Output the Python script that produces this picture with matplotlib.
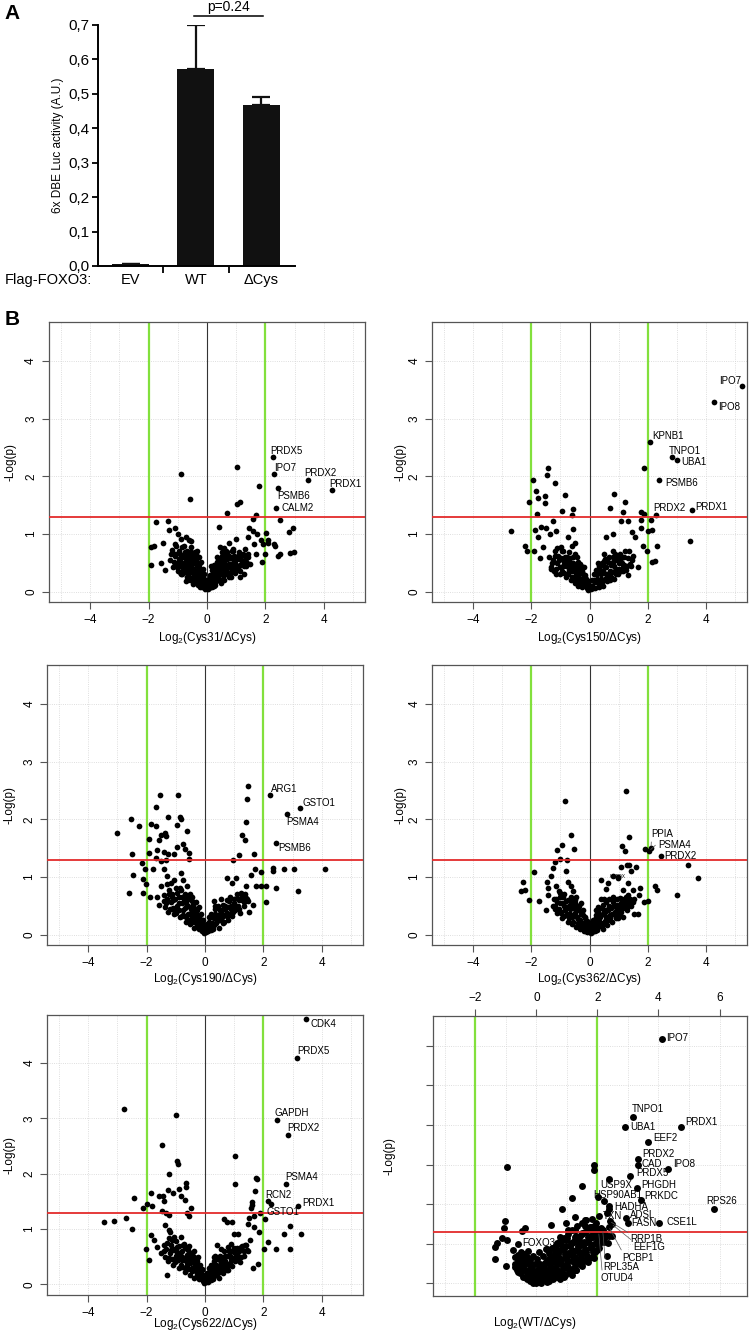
import numpy as np
import matplotlib.pyplot as plt

plt.rcParams['font.family'] = ['Liberation Sans', 'DejaVu Sans']

# ---------------- panel A : luciferase assay
groups = ['EV', 'WT', '\u0394Cys']
luc = [0.005, 0.573, 0.469]
luc_err = [0.002, 0.127, 0.022]
p_text = 'p=0.24'

# ---------------- panel B : volcano plots (log2 ratio, -log p)
c31_pts = [(-0.90, 2.04), (-0.57, 1.61), (1.03, 2.16), (1.78, 1.84), (1.02, 1.52), (1.14, 1.56), (0.69, 1.37),
           (1.67, 1.33), (1.58, 1.26), (2.49, 1.25), (-1.76, 1.21), (-1.34, 1.22), (-1.30, 1.07), (-1.10, 1.10),
           (-1.91, 0.77), (-1.83, 0.80), (-1.91, 0.47), (-1.57, 0.50), (-1.42, 0.38), (-1.49, 0.85), (-0.99, 1.0),
           (-0.88, 0.91), (-0.71, 0.94), (-1.22, 0.65), (-1.11, 0.83), (-0.85, 0.77), (-0.54, 0.88), (-0.37, 0.65),
           (-0.59, 0.59), (-1.05, 0.48), (-0.88, 0.31), (-0.71, 0.19), (-0.48, 0.13), (-0.25, 0.08), (-0.31, 0.25),
           (0.41, 1.13), (1.44, 1.10), (1.58, 1.06), (1.41, 0.94), (1.73, 1.00), (1.86, 0.89), (1.92, 0.83),
           (2.03, 1.02), (2.10, 0.89), (2.10, 0.84), (2.30, 0.83), (2.33, 0.79), (2.95, 1.10), (2.81, 1.03),
           (2.43, 0.62), (2.51, 0.65), (2.83, 0.67), (2.99, 0.69), (2.0, 0.65), (1.90, 0.52), (1.69, 0.65),
           (1.49, 0.48), (1.12, 0.36), (1.12, 0.25), (1.27, 0.31), (0.89, 0.59), (0.75, 0.85), (1.01, 0.91),
           (0.66, 0.71), (0.49, 0.59), (0.32, 0.42), (0.21, 0.25), (0.09, 0.10), (0.43, 0.77), (0.89, 0.74),
           (1.29, 0.74), (1.35, 0.59), (1.60, 0.83),
           (-1.25, 0.55), (-1.15, 0.42), (-1.1, 0.62), (-1.0, 0.5), (-1.0, 0.35), (-0.95, 0.7), (-0.9, 0.58),
           (-0.88, 0.45), (-0.85, 0.3), (-0.8, 0.8), (-0.78, 0.62), (-0.75, 0.5), (-0.72, 0.38), (-0.7, 0.25),
           (-0.68, 0.7), (-0.65, 0.58), (-0.62, 0.45), (-0.6, 0.32), (-0.58, 0.2), (-0.55, 0.78), (-0.52, 0.65),
           (-0.5, 0.52), (-0.48, 0.4), (-0.45, 0.28), (-0.42, 0.16), (-0.4, 0.6), (-0.38, 0.48), (-0.35, 0.35),
           (-0.32, 0.22), (-0.3, 0.12), (-0.28, 0.5), (-0.25, 0.4), (-0.22, 0.28), (-0.2, 0.18), (-0.18, 0.08),
           (-0.15, 0.32), (-0.12, 0.2), (-0.1, 0.1), (-0.07, 0.04), (-0.05, 0.15), (-1.2, 0.72), (-1.05, 0.8),
           (-0.6, 0.9), (-0.35, 0.7), (0.05, 0.05), (0.1, 0.12), (0.12, 0.25), (0.18, 0.08), (0.2, 0.35),
           (0.22, 0.18), (0.28, 0.12), (0.3, 0.42), (0.32, 0.28), (0.38, 0.2), (0.4, 0.5), (0.42, 0.35),
           (0.48, 0.15), (0.5, 0.62), (0.52, 0.42), (0.55, 0.28), (0.6, 0.2), (0.62, 0.55), (0.65, 0.38),
           (0.7, 0.68), (0.72, 0.3), (0.75, 0.48), (0.8, 0.58), (0.82, 0.25), (0.85, 0.4), (0.9, 0.7),
           (0.92, 0.52), (0.95, 0.32), (1.0, 0.45), (1.05, 0.62), (1.1, 0.38), (1.15, 0.55), (1.2, 0.48),
           (1.25, 0.65), (1.3, 0.52), (1.35, 0.45), (1.4, 0.6), (0.6, 0.75), (0.35, 0.6), (0.15, 0.45),
           (-1.12, 0.52), (-1.08, 0.66), (-1.02, 0.42), (-0.97, 0.56), (-0.93, 0.34), (-0.92, 0.66), (-0.87, 0.5),
           (-0.83, 0.62), (-0.82, 0.38), (-0.77, 0.44), (-0.76, 0.68), (-0.73, 0.56), (-0.7, 0.32), (-0.67, 0.48),
           (-0.66, 0.64), (-0.63, 0.26), (-0.6, 0.4), (-0.59, 0.55), (-0.56, 0.68), (-0.54, 0.22), (-0.53, 0.46),
           (-0.5, 0.34), (-0.49, 0.58), (-0.46, 0.2), (-0.44, 0.5), (-0.42, 0.36), (-0.41, 0.68), (-0.38, 0.26),
           (-0.36, 0.56), (-0.34, 0.44), (-0.31, 0.18), (-0.3, 0.32), (-0.28, 0.6), (-0.26, 0.46), (-0.24, 0.14),
           (-0.23, 0.24), (-0.2, 0.38), (-0.19, 0.52), (-0.16, 0.1), (-0.14, 0.26), (-0.13, 0.4), (-0.1, 0.16),
           (-0.09, 0.3), (-0.06, 0.06), (-0.04, 0.2), (-0.02, 0.1), (0.02, 0.08), (0.04, 0.18), (0.08, 0.06),
           (0.09, 0.28), (0.13, 0.14), (0.16, 0.38), (0.19, 0.22), (0.23, 0.1), (0.24, 0.46), (0.27, 0.3),
           (0.31, 0.18), (0.33, 0.52), (0.36, 0.36), (0.39, 0.26), (0.43, 0.56), (0.44, 0.42), (0.47, 0.3),
           (0.5, 0.2), (0.51, 0.68), (0.54, 0.5), (0.57, 0.38), (0.6, 0.28), (0.63, 0.64), (0.64, 0.46),
           (0.68, 0.34), (0.7, 0.56), (0.73, 0.42), (0.74, 0.26), (0.77, 0.62), (0.8, 0.48), (0.83, 0.34),
           (0.85, 0.7), (0.88, 0.56), (0.9, 0.42), (0.93, 0.62), (0.97, 0.5), (0.99, 0.38), (1.03, 0.56),
           (1.06, 0.44), (1.09, 0.68), (1.13, 0.46), (1.17, 0.62), (1.22, 0.54), (1.27, 0.44), (1.32, 0.58),
           (1.38, 0.5), (1.42, 0.66)]
c31_genes = ['PRDX5', 'IPO7', 'PRDX2', 'PRDX1', 'PSMB6', 'CALM2']
c31_gx = [2.26, 2.29, 3.47, 4.29, 2.43, 2.38]
c31_gy = [2.34, 2.04, 1.93, 1.77, 1.80, 1.46]

c150_pts = [(1.86, 2.15), (0.83, 1.69), (1.22, 1.56), (0.71, 1.45), (1.15, 1.39), (1.77, 1.39), (1.86, 1.34),
            (1.77, 1.24), (2.11, 1.24), (3.45, 0.88), (-1.94, 1.94), (-2.09, 1.56), (-1.83, 1.74), (-1.77, 1.62),
            (-1.41, 2.14), (-1.46, 2.03), (-1.20, 1.88), (-1.54, 1.66), (-1.52, 1.53), (-0.83, 1.67), (-0.57, 1.44),
            (-0.59, 1.33), (-0.95, 1.40), (-1.82, 1.34), (-1.25, 1.23), (-2.69, 1.06), (-2.21, 0.80), (-2.14, 0.71),
            (-1.92, 0.71), (-1.86, 1.07), (-1.66, 1.13), (-1.49, 1.11), (-1.77, 0.94), (-1.60, 0.77), (-1.71, 0.59),
            (-1.31, 0.39), (-1.14, 0.31), (-0.97, 0.77), (-0.74, 0.94), (-0.55, 1.09), (-0.51, 0.85), (-0.80, 0.57),
            (-0.63, 0.42), (-0.40, 0.25), (-1.14, 1.06), (-1.34, 1.0), (0.55, 0.94), (0.80, 1.0), (1.09, 1.23),
            (1.31, 1.23), (1.45, 1.03), (1.77, 1.11), (1.58, 0.94), (1.83, 0.80), (1.98, 0.71), (2.0, 1.06),
            (2.16, 1.07), (2.26, 0.54), (2.32, 0.80), (2.14, 0.51), (1.66, 0.42), (1.43, 0.45), (1.31, 0.29),
            (1.09, 0.59), (0.80, 0.71), (0.51, 0.54), (0.29, 0.36), (0.17, 0.19), (0.63, 0.25), (0.86, 0.36),
            (1.14, 0.42),
            (-1.3, 0.5), (-1.2, 0.62), (-1.15, 0.4), (-1.05, 0.55), (-1.0, 0.3), (-0.95, 0.7), (-0.9, 0.45),
            (-0.85, 0.6), (-0.8, 0.25), (-0.78, 0.52), (-0.72, 0.38), (-0.7, 0.68), (-0.65, 0.2), (-0.62, 0.5),
            (-0.58, 0.35), (-0.55, 0.6), (-0.5, 0.15), (-0.48, 0.45), (-0.45, 0.28), (-0.4, 0.52), (-0.38, 0.1),
            (-0.35, 0.38), (-0.3, 0.22), (-0.28, 0.45), (-0.25, 0.08), (-0.22, 0.3), (-0.18, 0.15), (-0.15, 0.25),
            (-0.1, 0.06), (-0.08, 0.14), (-0.04, 0.03), (-1.1, 0.75), (-0.6, 0.8), (0.05, 0.04), (0.1, 0.1),
            (0.15, 0.2), (0.2, 0.06), (0.25, 0.3), (0.3, 0.15), (0.35, 0.38), (0.4, 0.22), (0.45, 0.1),
            (0.5, 0.45), (0.55, 0.3), (0.6, 0.18), (0.65, 0.52), (0.7, 0.36), (0.75, 0.25), (0.8, 0.6),
            (0.85, 0.45), (0.9, 0.3), (0.95, 0.55), (1.0, 0.4), (1.05, 0.65), (1.1, 0.5), (1.15, 0.35),
            (1.2, 0.6), (1.3, 0.45), (1.35, 0.7), (1.45, 0.55), (0.5, 0.65), (0.3, 0.5),
            (-1.38, 0.6), (-1.33, 0.42), (-1.27, 0.55), (-1.22, 0.35), (-1.18, 0.7), (-1.13, 0.5), (-1.08, 0.62),
            (-1.03, 0.42), (-0.98, 0.58), (-0.96, 0.36), (-0.92, 0.7), (-0.88, 0.52), (-0.86, 0.32), (-0.82, 0.44),
            (-0.76, 0.6), (-0.74, 0.3), (-0.69, 0.46), (-0.67, 0.58), (-0.63, 0.36), (-0.6, 0.25), (-0.57, 0.5),
            (-0.53, 0.42), (-0.51, 0.66), (-0.47, 0.22), (-0.44, 0.36), (-0.42, 0.6), (-0.37, 0.3), (-0.34, 0.48),
            (-0.32, 0.16), (-0.27, 0.36), (-0.24, 0.2), (-0.2, 0.42), (-0.17, 0.28), (-0.13, 0.12), (-0.11, 0.22),
            (-0.06, 0.1), (-0.03, 0.18), (0.03, 0.1), (0.07, 0.2), (0.12, 0.06), (0.14, 0.3), (0.18, 0.16),
            (0.22, 0.38), (0.27, 0.22), (0.32, 0.44), (0.33, 0.08), (0.38, 0.3), (0.42, 0.5), (0.43, 0.16),
            (0.48, 0.36), (0.53, 0.56), (0.54, 0.22), (0.58, 0.42), (0.63, 0.3), (0.67, 0.6), (0.69, 0.2),
            (0.73, 0.46), (0.78, 0.34), (0.82, 0.52), (0.84, 0.22), (0.88, 0.66), (0.92, 0.4), (0.97, 0.3),
            (0.99, 0.62), (1.03, 0.5), (1.08, 0.36), (1.12, 0.6), (1.18, 0.46), (1.23, 0.7), (1.26, 0.38),
            (1.32, 0.58), (1.4, 0.48), (1.48, 0.62)]
c150_genes = ['IPO7', 'IPO8', 'KPNB1', 'TNPO1', 'UBA1', 'PSMB6', 'PRDX2', 'PRDX1']
c150_gx = [5.23, 4.26, 2.07, 2.83, 3.0, 2.38, 2.30, 3.52]
c150_gy = [3.57, 3.29, 2.59, 2.33, 2.28, 1.94, 1.33, 1.42]

c190_pts = [(1.47, 2.58), (1.43, 2.36), (1.42, 1.95), (1.28, 1.73), (1.37, 1.64), (1.68, 1.40), (1.17, 1.38),
            (0.97, 1.29), (4.11, 1.13), (3.05, 1.13), (2.70, 1.13), (2.33, 1.15), (2.33, 1.10), (3.20, 0.75),
            (2.42, 0.80), (2.08, 0.84), (1.91, 0.84), (1.74, 0.84), (1.91, 1.08), (1.70, 1.14), (1.57, 1.04),
            (2.08, 0.56), (1.05, 0.98), (0.77, 0.98), (0.94, 0.90), (1.22, 0.72), (1.45, 0.61), (1.66, 0.52),
            (1.51, 0.39), (0.99, 0.49), (0.77, 0.38), (0.54, 0.43), (0.31, 0.58), (0.42, 0.26), (0.19, 0.14),
            (1.39, 0.84), (-3.02, 1.77), (-2.55, 2.0), (-2.27, 1.89), (-2.49, 1.39), (-2.47, 1.03), (-2.61, 0.72),
            (-2.13, 0.72), (-2.11, 0.97), (-2.01, 0.87), (-1.91, 1.66), (-1.93, 1.42), (-2.15, 1.25), (-2.07, 1.14),
            (-1.86, 1.92), (-1.69, 1.89), (-1.68, 2.21), (-1.54, 2.43), (-0.94, 2.43), (-1.27, 2.04), (-0.86, 2.04),
            (-0.83, 2.0), (-0.96, 1.91), (-0.61, 1.80), (-1.52, 1.73), (-1.38, 1.76), (-1.33, 1.71), (-1.58, 1.65),
            (-1.63, 1.47), (-1.41, 1.43), (-1.27, 1.40), (-1.07, 1.40), (-0.95, 1.52), (-0.74, 1.58), (-0.69, 1.49),
            (-0.54, 1.42), (-0.55, 1.32), (-1.67, 1.33), (-1.52, 1.27), (-1.35, 1.29), (-1.41, 1.13), (-1.79, 1.13),
            (-1.29, 1.01), (-1.06, 0.95), (-0.83, 1.07), (-1.52, 0.84), (-1.31, 0.88), (-1.63, 0.66), (-1.57, 0.51),
            (-1.90, 0.66), (-1.41, 0.58), (-1.12, 0.66), (-0.83, 0.78), (-0.61, 0.84), (-0.43, 0.66), (-0.66, 0.55),
            (-1.06, 0.43), (-0.78, 0.32), (-0.43, 0.38), (-0.26, 0.23), (-0.15, 0.12), (-0.09, 0.06),
            (-1.35, 0.55), (-1.25, 0.7), (-1.2, 0.45), (-1.1, 0.6), (-1.05, 0.35), (-1.0, 0.8), (-0.95, 0.5),
            (-0.9, 0.65), (-0.85, 0.3), (-0.8, 0.55), (-0.75, 0.42), (-0.7, 0.7), (-0.65, 0.22), (-0.62, 0.5),
            (-0.58, 0.36), (-0.55, 0.62), (-0.5, 0.18), (-0.48, 0.45), (-0.45, 0.3), (-0.4, 0.52), (-0.36, 0.12),
            (-0.33, 0.38), (-0.3, 0.24), (-0.26, 0.42), (-0.22, 0.1), (-0.2, 0.3), (-0.16, 0.18), (-0.12, 0.26),
            (-0.08, 0.07), (-0.05, 0.14), (-0.02, 0.02), (-1.15, 0.9), (-0.75, 0.95), (0.05, 0.05), (0.1, 0.12),
            (0.14, 0.22), (0.2, 0.08), (0.25, 0.3), (0.3, 0.16), (0.35, 0.36), (0.42, 0.24), (0.48, 0.12),
            (0.52, 0.42), (0.58, 0.3), (0.62, 0.2), (0.68, 0.5), (0.72, 0.36), (0.78, 0.26), (0.82, 0.58),
            (0.88, 0.44), (0.92, 0.32), (0.98, 0.55), (1.02, 0.42), (1.08, 0.64), (1.12, 0.5), (1.2, 0.38),
            (1.25, 0.6), (1.32, 0.5), (1.38, 0.7), (1.48, 0.58), (0.55, 0.62), (0.35, 0.5),
            (-1.4, 0.68), (-1.36, 0.48), (-1.3, 0.62), (-1.27, 0.4), (-1.22, 0.78), (-1.18, 0.56), (-1.12, 0.7),
            (-1.08, 0.46), (-1.03, 0.62), (-0.98, 0.38), (-0.96, 0.72), (-0.9, 0.54), (-0.88, 0.42), (-0.84, 0.8),
            (-0.8, 0.66), (-0.77, 0.34), (-0.72, 0.58), (-0.68, 0.46), (-0.66, 0.3), (-0.6, 0.64), (-0.57, 0.5),
            (-0.55, 0.26), (-0.52, 0.7), (-0.47, 0.38), (-0.44, 0.58), (-0.41, 0.22), (-0.38, 0.46), (-0.34, 0.28),
            (-0.31, 0.56), (-0.28, 0.16), (-0.25, 0.34), (-0.22, 0.48), (-0.18, 0.22), (-0.14, 0.36), (-0.13, 0.1),
            (-0.1, 0.18), (-0.06, 0.26), (-0.04, 0.06), (0.03, 0.1), (0.07, 0.18), (0.11, 0.06), (0.12, 0.3),
            (0.17, 0.14), (0.22, 0.36), (0.23, 0.2), (0.28, 0.1), (0.32, 0.28), (0.33, 0.44), (0.38, 0.2),
            (0.44, 0.34), (0.46, 0.5), (0.5, 0.26), (0.55, 0.4), (0.6, 0.52), (0.63, 0.32), (0.66, 0.22),
            (0.7, 0.44), (0.74, 0.6), (0.76, 0.32), (0.8, 0.48), (0.85, 0.36), (0.86, 0.66), (0.9, 0.5),
            (0.95, 0.4), (1.0, 0.62), (1.05, 0.5), (1.1, 0.7), (1.15, 0.44), (1.18, 0.6), (1.28, 0.66),
            (1.35, 0.56), (1.42, 0.64)]
c190_genes = ['ARG1', 'GSTO1', 'PSMA4', 'PSMB6']
c190_gx = [2.23, 3.25, 2.80, 2.42]
c190_gy = [2.42, 2.19, 2.09, 1.59]

c362_pts = [(1.26, 2.50), (-0.83, 2.31), (-0.65, 1.72), (-0.94, 1.55), (-1.11, 1.46), (-0.54, 1.49), (1.35, 1.69),
            (1.11, 1.53), (1.22, 1.45), (1.91, 1.49), (3.37, 1.21), (3.74, 0.99), (3.0, 0.68), (2.26, 0.84),
            (2.31, 0.78), (2.0, 0.58), (1.86, 0.57), (-1.03, 1.31), (-0.77, 1.29), (-1.20, 1.26), (-1.91, 1.09),
            (-2.29, 0.92), (-2.34, 0.75), (-2.23, 0.78), (-2.09, 0.60), (-1.74, 0.58), (-1.46, 0.91), (-1.31, 1.01),
            (-1.41, 0.81), (-1.26, 1.16), (-1.43, 0.69), (-1.14, 0.84), (-1.03, 0.72), (-0.80, 1.10), (-0.74, 0.92),
            (-0.63, 0.84), (-0.51, 0.55), (-0.86, 0.49), (-1.20, 0.49), (-0.97, 0.38), (-0.63, 0.32), (-0.40, 0.20),
            (-0.23, 0.12), (-1.49, 0.43), (1.09, 1.17), (1.28, 1.21), (1.37, 1.21), (1.6, 1.17), (1.43, 1.10),
            (0.97, 0.98), (0.80, 1.01), (0.63, 0.90), (0.40, 0.95), (0.57, 0.79), (1.31, 0.90), (1.49, 0.78),
            (1.74, 0.80), (1.71, 0.69), (1.54, 0.61), (1.31, 0.69), (1.14, 0.78), (1.09, 0.55), (0.86, 0.49),
            (0.63, 0.43), (1.54, 0.35), (1.66, 0.35), (0.40, 0.61), (0.23, 0.43), (0.17, 0.26), (0.63, 0.26),
            (0.91, 0.38), (1.31, 0.49),
            (-1.25, 0.5), (-1.15, 0.62), (-1.1, 0.38), (-1.0, 0.55), (-0.95, 0.28), (-0.9, 0.66), (-0.85, 0.42),
            (-0.8, 0.58), (-0.75, 0.22), (-0.72, 0.5), (-0.68, 0.35), (-0.65, 0.65), (-0.6, 0.18), (-0.57, 0.46),
            (-0.53, 0.33), (-0.5, 0.6), (-0.46, 0.14), (-0.43, 0.42), (-0.4, 0.27), (-0.36, 0.5), (-0.33, 0.1),
            (-0.3, 0.36), (-0.27, 0.2), (-0.24, 0.42), (-0.2, 0.07), (-0.17, 0.28), (-0.14, 0.15), (-0.1, 0.24),
            (-0.07, 0.05), (-0.04, 0.12), (-1.05, 0.75), (-0.55, 0.76), (0.04, 0.03), (0.09, 0.11), (0.13, 0.2),
            (0.19, 0.06), (0.24, 0.28), (0.3, 0.14), (0.34, 0.35), (0.41, 0.2), (0.46, 0.1), (0.5, 0.42),
            (0.56, 0.3), (0.6, 0.17), (0.66, 0.5), (0.7, 0.34), (0.76, 0.22), (0.8, 0.56), (0.86, 0.4),
            (0.9, 0.28), (0.96, 0.52), (1.0, 0.36), (1.04, 0.64), (1.1, 0.46), (1.16, 0.3), (1.2, 0.58),
            (1.28, 0.42), (1.36, 0.62), (1.44, 0.5), (0.5, 0.62), (0.3, 0.48),
            (-1.22, 0.62), (-1.18, 0.44), (-1.12, 0.56), (-1.06, 0.45), (-1.02, 0.66), (-0.98, 0.4), (-0.93, 0.54),
            (-0.88, 0.32), (-0.86, 0.7), (-0.82, 0.48), (-0.78, 0.36), (-0.74, 0.6), (-0.7, 0.28), (-0.66, 0.44),
            (-0.62, 0.56), (-0.6, 0.3), (-0.55, 0.22), (-0.54, 0.52), (-0.5, 0.38), (-0.48, 0.66), (-0.44, 0.3),
            (-0.41, 0.5), (-0.38, 0.18), (-0.35, 0.42), (-0.32, 0.26), (-0.29, 0.54), (-0.25, 0.14), (-0.22, 0.34),
            (-0.19, 0.2), (-0.15, 0.3), (-0.12, 0.08), (-0.09, 0.18), (-0.05, 0.22), (-0.02, 0.05), (0.02, 0.08),
            (0.06, 0.17), (0.1, 0.05), (0.12, 0.26), (0.16, 0.13), (0.21, 0.34), (0.22, 0.18), (0.27, 0.08),
            (0.28, 0.4), (0.32, 0.24), (0.37, 0.3), (0.38, 0.46), (0.43, 0.16), (0.45, 0.36), (0.48, 0.52),
            (0.53, 0.24), (0.54, 0.4), (0.58, 0.56), (0.62, 0.3), (0.64, 0.44), (0.68, 0.62), (0.72, 0.28),
            (0.74, 0.46), (0.78, 0.36), (0.82, 0.66), (0.84, 0.5), (0.88, 0.34), (0.93, 0.62), (0.94, 0.44),
            (0.98, 0.28), (1.02, 0.52), (1.07, 0.4), (1.12, 0.62), (1.14, 0.52), (1.22, 0.46), (1.25, 0.66),
            (1.33, 0.54), (1.4, 0.62), (1.5, 0.56)]
c362_genes = ['PPIA', 'PSMA4', 'PRDX2', 'USP9X']
c362_gx = [2.11, 2.05, 2.47, 0.97]
c362_gy = [1.50, 1.45, 1.37, 1.00]

c622_pts = [(-2.79, 3.17), (-1.01, 3.06), (-1.46, 2.52), (-0.95, 2.23), (-0.94, 2.17), (-1.23, 2.0), (-0.65, 1.83),
            (-0.66, 1.76), (1.04, 2.32), (1.04, 1.81), (1.74, 1.93), (1.77, 1.91), (1.70, 1.69), (1.60, 1.49),
            (1.62, 1.44), (1.59, 1.38), (1.50, 1.21), (1.68, 1.24), (2.05, 1.18), (2.90, 1.06), (2.69, 0.92),
            (3.30, 0.92), (2.43, 0.64), (2.90, 0.64), (2.01, 0.64), (2.14, 0.76), (1.86, 0.94), (1.68, 1.04),
            (1.47, 1.09), (1.13, 0.92), (0.65, 1.19), (0.77, 1.12), (0.93, 1.12), (0.99, 0.92), (0.88, 0.74),
            (1.22, 0.68), (1.45, 0.62), (1.65, 0.29), (1.83, 0.37), (0.42, 0.71), (0.31, 0.50), (0.54, 0.38),
            (0.99, 0.44), (0.77, 0.26), (0.19, 0.17), (0.08, 0.08), (2.25, 1.45), (-3.46, 1.12), (-3.13, 1.15),
            (-2.70, 1.21), (-2.49, 1.01), (-2.43, 1.57), (-2.11, 1.39), (-2.0, 1.45), (-1.86, 1.65), (-1.83, 1.41),
            (-1.58, 1.59), (-1.43, 1.59), (-1.41, 1.50), (-1.26, 1.71), (-1.09, 1.66), (-0.89, 1.72), (-0.83, 1.59),
            (-0.70, 1.53), (-0.49, 1.39), (-0.61, 1.29), (-0.55, 1.24), (-1.46, 1.33), (-1.35, 1.29), (-1.23, 1.25),
            (-2.03, 0.64), (-1.92, 0.45), (-1.86, 0.89), (-1.75, 0.80), (-1.63, 0.68), (-1.38, 1.07), (-1.23, 0.98),
            (-1.12, 0.80), (-1.52, 0.56), (-1.29, 0.18), (-1.06, 0.62), (-0.83, 0.86), (-0.72, 0.74), (-0.55, 0.47),
            (-0.95, 0.44), (-0.78, 0.32), (-0.38, 0.32), (-0.26, 0.20), (-0.15, 0.11),
            (-1.4, 0.6), (-1.3, 0.75), (-1.25, 0.48), (-1.15, 0.62), (-1.1, 0.36), (-1.05, 0.85), (-1.0, 0.52),
            (-0.95, 0.68), (-0.9, 0.3), (-0.85, 0.56), (-0.8, 0.44), (-0.75, 0.72), (-0.7, 0.22), (-0.66, 0.5),
            (-0.62, 0.36), (-0.58, 0.62), (-0.52, 0.18), (-0.5, 0.44), (-0.46, 0.3), (-0.42, 0.52), (-0.38, 0.12),
            (-0.34, 0.38), (-0.3, 0.24), (-0.27, 0.42), (-0.22, 0.1), (-0.2, 0.3), (-0.16, 0.18), (-0.12, 0.26),
            (-0.08, 0.07), (-0.05, 0.14), (-0.02, 0.02), (-1.2, 0.95), (0.05, 0.05), (0.1, 0.12), (0.14, 0.22),
            (0.2, 0.08), (0.25, 0.3), (0.3, 0.16), (0.36, 0.36), (0.42, 0.24), (0.48, 0.12), (0.52, 0.44),
            (0.58, 0.3), (0.62, 0.2), (0.68, 0.52), (0.72, 0.36), (0.78, 0.26), (0.82, 0.6), (0.88, 0.46),
            (0.92, 0.34), (0.98, 0.58), (1.02, 0.42), (1.08, 0.66), (1.12, 0.52), (1.2, 0.4), (1.25, 0.62),
            (1.32, 0.52), (1.38, 0.72), (1.48, 0.6), (1.55, 0.8), (0.55, 0.64), (0.35, 0.52),
            (-1.42, 0.72), (-1.38, 0.5), (-1.33, 0.64), (-1.28, 0.42), (-1.25, 0.84), (-1.2, 0.56), (-1.16, 0.72),
            (-1.12, 0.46), (-1.07, 0.64), (-1.02, 0.4), (-0.99, 0.78), (-0.96, 0.58), (-0.92, 0.44), (-0.88, 0.7),
            (-0.83, 0.52), (-0.81, 0.36), (-0.78, 0.6), (-0.73, 0.46), (-0.7, 0.3), (-0.68, 0.66), (-0.64, 0.42),
            (-0.6, 0.54), (-0.58, 0.28), (-0.55, 0.7), (-0.52, 0.38), (-0.48, 0.56), (-0.45, 0.24), (-0.42, 0.44),
            (-0.39, 0.6), (-0.36, 0.3), (-0.32, 0.48), (-0.29, 0.18), (-0.26, 0.34), (-0.23, 0.5), (-0.19, 0.22),
            (-0.16, 0.36), (-0.13, 0.14), (-0.1, 0.28), (-0.07, 0.18), (-0.04, 0.08), (0.03, 0.1), (0.07, 0.2),
            (0.1, 0.05), (0.12, 0.3), (0.16, 0.14), (0.2, 0.36), (0.23, 0.2), (0.27, 0.1), (0.3, 0.42),
            (0.33, 0.26), (0.38, 0.18), (0.4, 0.46), (0.44, 0.32), (0.46, 0.2), (0.5, 0.52), (0.55, 0.38),
            (0.57, 0.24), (0.6, 0.46), (0.65, 0.32), (0.66, 0.6), (0.7, 0.42), (0.75, 0.52), (0.77, 0.32),
            (0.8, 0.68), (0.85, 0.52), (0.87, 0.38), (0.9, 0.6), (0.95, 0.48), (1.0, 0.66), (1.05, 0.54),
            (1.1, 0.44), (1.15, 0.6), (1.22, 0.5), (1.28, 0.7), (1.35, 0.6), (1.42, 0.72)]
c622_genes = ['CDK4', 'PRDX5', 'GAPDH', 'PRDX2', 'PSMA4', 'RCN2', 'PRDX1', 'GSTO1']
c622_gx = [3.45, 3.14, 2.45, 2.83, 2.79, 2.14, 3.20, 1.89]
c622_gy = [4.80, 4.10, 2.97, 2.70, 1.82, 1.51, 1.41, 1.29]

wt_pts = [(-0.96, 2.95), (1.89, 2.99), (1.89, 2.86), (1.48, 2.47), (1.15, 2.15), (0.85, 1.88), (2.02, 2.17),
          (2.37, 1.87), (2.32, 1.77), (2.11, 1.41), (2.38, 1.20), (2.32, 0.70), (-1.02, 1.57), (-1.07, 1.41),
          (-0.38, 1.41), (-0.46, 1.33), (-1.13, 1.14), (-0.95, 1.09), (-1.29, 1.01), (-1.37, 0.61), (-1.01, 0.45),
          (-0.71, 0.67), (0.33, 0.88), (0.60, 0.67), (0.49, 1.47), (0.98, 1.52), (1.26, 1.68), (1.58, 1.60),
          (1.78, 1.43), (1.91, 1.36), (1.86, 1.18), (1.69, 1.18), (1.48, 1.26), (1.26, 1.35), (1.04, 1.35),
          (0.98, 1.09), (1.15, 1.01), (1.37, 1.01), (1.58, 1.01), (1.80, 0.93), (1.69, 0.67), (1.48, 0.76),
          (1.26, 0.67), (1.04, 0.76), (0.82, 0.84), (0.82, 0.51), (1.04, 0.42), (1.26, 0.34), (0.60, 0.34),
          (0.38, 0.21), (0.16, 0.13), (-0.16, 0.08), (-0.38, 0.17), (-0.60, 0.29), (-0.71, 0.42), (-0.55, 0.51),
          (-0.44, 0.34), (-0.27, 0.25), (-0.05, 0.04), (0.33, 0.08), (0.66, 0.17), (0.93, 0.21), (1.48, 0.51),
          (1.86, 0.67), (1.97, 0.84), (2.05, 1.01), (2.24, 1.18), (2.35, 1.01), (2.46, 1.20), (-1.37, 0.93),
          (-0.77, 0.84), (-0.49, 0.67), (-0.22, 0.51), (0.05, 0.34), (0.27, 0.51), (0.44, 0.67), (0.66, 1.01),
          (0.77, 1.18), (1.26, 1.18),
          (-0.7, 0.5), (-0.65, 0.35), (-0.6, 0.6), (-0.55, 0.25), (-0.5, 0.45), (-0.45, 0.15), (-0.4, 0.35),
          (-0.35, 0.55), (-0.3, 0.1), (-0.25, 0.28), (-0.2, 0.05), (-0.15, 0.18), (-0.1, 0.02), (-0.05, 0.1),
          (0.0, 0.0), (0.05, 0.05), (0.1, 0.15), (0.15, 0.02), (0.2, 0.25), (0.25, 0.1), (0.3, 0.35),
          (0.35, 0.18), (0.4, 0.05), (0.45, 0.45), (0.5, 0.28), (0.55, 0.12), (0.6, 0.55), (0.65, 0.38),
          (0.7, 0.2), (0.75, 0.65), (0.8, 0.48), (0.85, 0.3), (0.9, 0.15), (0.95, 0.75), (1.0, 0.58),
          (1.05, 0.4), (1.1, 0.25), (1.15, 0.85), (1.2, 0.68), (1.25, 0.5), (1.3, 0.35), (1.35, 0.95),
          (1.4, 0.78), (1.45, 0.6), (1.5, 0.45), (1.55, 1.05), (1.6, 0.88), (1.65, 0.7), (1.7, 0.55),
          (1.75, 1.15), (1.8, 0.98), (1.85, 0.8), (1.9, 0.65), (1.95, 1.25), (2.0, 1.08), (2.05, 0.9),
          (2.1, 1.3), (2.15, 1.15), (1.2, 1.05), (0.9, 0.9), (0.6, 0.8), (1.5, 1.25), (1.7, 1.35),
          (1.0, 1.15), (0.3, 0.55), (0.1, 0.4), (-0.2, 0.4), (0.8, 1.0), (1.3, 1.2), (1.6, 1.45),
          (2.2, 1.05), (1.9, 1.45), (0.5, 0.65), (1.1, 0.95), (1.4, 1.1), (0.7, 0.85), (2.25, 1.25),
          (1.8, 1.2), (0.2, 0.45), (-0.1, 0.25),
          (-0.62, 0.72), (-0.58, 0.55), (-0.52, 0.78), (-0.48, 0.62), (-0.44, 0.42), (-0.4, 0.74), (-0.36, 0.5),
          (-0.32, 0.3), (-0.3, 0.66), (-0.26, 0.82), (-0.22, 0.2), (-0.2, 0.58), (-0.16, 0.36), (-0.12, 0.7),
          (-0.08, 0.15), (-0.06, 0.48), (-0.02, 0.3), (0.02, 0.62), (0.04, 0.18), (0.08, 0.8), (0.12, 0.5),
          (0.14, 0.3), (0.18, 0.1), (0.2, 0.68), (0.24, 0.4), (0.28, 0.2), (0.3, 0.86), (0.34, 0.6),
          (0.36, 0.04), (0.38, 0.32), (0.42, 0.76), (0.46, 0.52), (0.5, 0.14), (0.52, 0.9), (0.54, 0.4),
          (0.58, 0.68), (0.62, 0.22), (0.64, 0.98), (0.66, 0.5), (0.7, 0.74), (0.72, 0.32), (0.76, 1.08),
          (0.78, 0.1), (0.8, 0.58), (0.84, 0.86), (0.86, 0.4), (0.9, 1.15), (0.92, 0.22), (0.94, 0.66),
          (0.98, 0.95), (1.0, 0.46), (1.04, 1.25), (1.06, 0.72), (1.08, 0.3), (1.12, 1.02), (1.16, 0.56),
          (1.18, 1.35), (1.22, 0.82), (1.24, 0.4), (1.28, 1.1), (1.32, 0.62), (1.34, 1.45), (1.36, 0.9),
          (1.4, 0.48), (1.44, 1.2), (1.46, 0.72), (1.5, 1.52), (1.52, 0.98), (1.56, 0.58), (1.58, 1.3),
          (1.62, 0.8), (1.64, 1.6), (1.68, 1.08), (1.72, 0.65), (1.74, 1.42), (1.78, 0.9), (1.82, 1.62),
          (1.84, 1.3), (1.88, 1.0), (1.92, 0.78), (1.94, 1.52), (1.98, 1.16), (2.02, 1.38), (2.06, 1.0),
          (2.12, 1.2), (0.3, 0.12), (0.55, 0.25), (0.85, 0.2), (1.15, 0.22), (1.3, 0.35)]
wt_genes = ['IPO7', 'TNPO1', 'UBA1', 'PRDX1', 'EEF2', 'PRDX2', 'CAD', 'IPO8', 'PRDX5', 'USP9X', 'PHGDH',
            'HSP90AB1', 'PRKDC', 'HADHA', 'TXN', 'ADSL', 'FASN', 'CSE1L', 'RPS26', 'RRP1B', 'EEF1G',
            'PCBP1', 'RPL35A', 'OTUD4', 'FOXO3']
wt_gx = [4.12, 3.18, 2.89, 4.73, 3.65, 3.33, 3.33, 4.30, 3.07, 2.38, 3.30, 2.22, 3.44, 2.38, 2.04, 2.94,
         3.01, 4.02, 5.83, 2.40, 2.46, 2.37, 2.17, 2.04, -0.60]
wt_gy = [6.16, 4.21, 3.96, 3.95, 3.56, 3.15, 3.00, 2.88, 2.70, 2.64, 2.42, 2.07, 2.10, 1.95, 1.71, 1.65,
         1.52, 1.52, 1.88, 1.57, 1.50, 1.43, 1.36, 1.30, 0.99]

# ---------------- layout
fig = plt.figure(figsize=(7.5, 13.36), dpi=100)

# panel A
ax = fig.add_axes([0.1307, 0.8009, 0.2627, 0.1804])
xs = np.arange(len(groups))
ax.bar(xs, luc, width=0.57, color='#111111',
       yerr=[[0] * len(luc), luc_err],
       error_kw=dict(ecolor='#111111', elinewidth=1.6, capsize=6.5, capthick=1.6))
ax.set_xlim(-0.5, 2.52)
ax.set_ylim(0, 0.7)
ax.spines[['top', 'right']].set_visible(False)
ax.spines[['left', 'bottom']].set_linewidth(1.4)
yt = np.arange(0, 0.71, 0.1)
ax.set_yticks(yt)
ax.set_yticklabels([f'{v:.1f}'.replace('.', ',') for v in yt], fontsize=11)
ax.set_xticks(xs)
ax.set_xticklabels(groups, fontsize=10.5)
ax.set_xticks([0.5, 1.5], minor=True)
ax.tick_params(axis='x', which='major', length=0, pad=5)
ax.tick_params(axis='x', which='minor', length=5, width=1.3)
ax.tick_params(axis='y', length=4, width=1.3, pad=2)
ax.set_ylabel('6x DBE Luc activity (A.U.)', fontsize=8.5, labelpad=3)
ax.plot([0.97, 2.03], [0.726, 0.726], color='k', lw=1.1, clip_on=False)
ax.text(1.5, 0.732, p_text, ha='center', va='bottom', fontsize=10)
fig.text(0.006, 1 - 280 / 1336, 'Flag-FOXO3:', fontsize=10.5, va='center')
fig.text(0.006, 0.997, 'A', fontsize=15, fontweight='bold', va='top')
fig.text(0.006, 1 - 310 / 1336, 'B', fontsize=15, fontweight='bold', va='top')

GREEN = '#82e03c'
RED = '#e32b2b'
GRID = '#d4d4d4'


def volcano(rect, pts, genes, gx, gy, offs, xlab, ylim, ylab_x, xlab_xy=(0.5, -0.13),
            xlim=(-5.41, 5.41), zero=True, top=False, ms=17, gfs=7):
    ax = fig.add_axes(rect)
    ax.set_xlim(*xlim)
    ax.set_ylim(*ylim)
    for v in range(int(np.ceil(xlim[0])), int(np.floor(xlim[1])) + 1):
        ax.axvline(v, color=GRID, lw=0.6, ls=':', zorder=0)
    for v in range(0, int(ylim[1]) + 1):
        ax.axhline(v, color=GRID, lw=0.6, ls=':', zorder=0)
    ax.axvline(-2, color=GREEN, lw=1.6, zorder=1)
    ax.axvline(2, color=GREEN, lw=1.6, zorder=1)
    if zero:
        ax.axvline(0, color='#333333', lw=0.8, zorder=1)
    ax.axhline(1.3, color=RED, lw=1.3, zorder=4)
    x, y = zip(*pts)
    ax.scatter(x, y, s=ms, c='k', lw=0, zorder=3)
    ax.scatter(gx, gy, s=ms, c='k', lw=0, zorder=3)
    for g, a, b in zip(genes, gx, gy):
        dx, dy, ha, lead, fs = offs[g]
        kw = {}
        if lead:
            kw['arrowprops'] = dict(arrowstyle='-', color='#555555', lw=0.5,
                                    shrinkA=0, shrinkB=1.5, relpos=(0.05, 0.9))
        ax.annotate(g, (a, b), xytext=(dx, dy), textcoords='offset pixels',
                    fontsize=fs if fs else gfs, ha=ha, va='center', zorder=5, **kw)
    for s in ax.spines.values():
        s.set_color('#555555')
        s.set_linewidth(0.9)
    ax.tick_params(length=5, width=0.8, color='#555555', labelsize=8.5)
    if top:
        ax.xaxis.tick_top()
        ax.set_xticks([-2, 0, 2, 4, 6])
        ax.set_yticks(range(0, 7))
        ax.set_yticklabels([])
    else:
        ax.set_xticks([-4, -2, 0, 2, 4])
        ax.set_yticks(range(0, 5))
        ax.tick_params(axis='y', labelrotation=90)
        for t in ax.get_yticklabels():
            t.set_va('center')
    ax.text(xlab_xy[0], xlab_xy[1], 'Log$_{\\mathregular{2}}$(' + xlab + '/\u0394Cys)',
            transform=ax.transAxes, ha='center', va='center', fontsize=8.5)
    ax.text(ylab_x, 0.5, '-Log(p)', transform=ax.transAxes, rotation=90,
            ha='center', va='center', fontsize=8.5)
    return ax


L = 'left'
off_c31 = {'PRDX5': (-3, 6, L, False, 0), 'IPO7': (0, 6, L, False, 0), 'PRDX2': (-4, 7, L, False, 0),
           'PRDX1': (-3, 6, L, False, 0), 'PSMB6': (-1, -8, L, False, 0), 'CALM2': (5, 0, L, False, 0)}
off_c150 = {'IPO7': (-1, 5, 'right', False, 0), 'IPO8': (5, -5, L, False, 0), 'KPNB1': (2, 6, L, False, 0),
            'TNPO1': (-3, 6, L, False, 0), 'UBA1': (4, -2, L, False, 0), 'PSMB6': (6, -3, L, False, 0),
            'PRDX2': (-3, 7, L, False, 0), 'PRDX1': (3, 3, L, False, 0)}
off_c190 = {'ARG1': (1, 6, L, False, 0), 'GSTO1': (3, 5, L, False, 0), 'PSMA4': (-1, -8, L, False, 0),
            'PSMB6': (3, -5, L, False, 0)}
off_c362 = {'PPIA': (0, 14, L, True, 0), 'PSMA4': (9, 6, L, True, 0), 'PRDX2': (3, 0, L, False, 0),
            'USP9X': (0, 0, 'center', False, 3.5)}
off_c622 = {'CDK4': (5, -5, L, False, 0), 'PRDX5': (1, 7, L, False, 0), 'GAPDH': (-2, 7, L, False, 0),
            'PRDX2': (0, 7, L, False, 0), 'PSMA4': (-1, 7, L, False, 0), 'RCN2': (-2, 6, L, False, 0),
            'PRDX1': (4, 3, L, False, 0), 'GSTO1': (6, 1, L, False, 0)}
off_wt = {'IPO7': (4, 1, L, False, 0), 'TNPO1': (-2, 8, L, False, 0), 'UBA1': (6, 0, L, False, 0),
          'PRDX1': (4, 5, L, False, 0), 'EEF2': (5, 4, L, False, 0), 'PRDX2': (4, 5, L, False, 0),
          'CAD': (3, 1, L, False, 0), 'IPO8': (5, 5, L, False, 0), 'PRDX5': (6, 3, L, False, 0),
          'USP9X': (-9, -6, L, False, 0), 'PHGDH': (4, 3, L, False, 0), 'HSP90AB1': (-11, 6, L, False, 0),
          'PRKDC': (3, 4, L, False, 0), 'HADHA': (5, -1, L, False, 0), 'TXN': (4, 0, L, False, 0),
          'ADSL': (4, 3, L, False, 0), 'FASN': (3, 0, L, False, 0), 'CSE1L': (7, 1, L, False, 0),
          'RPS26': (-8, 8, L, False, 0), 'RRP1B': (21, -18, L, True, 0), 'EEF1G': (22, -23, L, True, 0),
          'PCBP1': (13, -31, L, True, 0), 'RPL35A': (1, -37, L, True, 0), 'OTUD4': (2, -46, L, True, 0),
          'FOXO3': (4, 1, L, False, 0)}

ylim4 = (-0.18, 4.68)
volcano([0.0653, 0.5494, 0.4213, 0.2096], c31_pts, c31_genes, c31_gx, c31_gy, off_c31,
        'Cys31', ylim4, -0.123, xlab_xy=(0.5, -0.129))
volcano([0.576, 0.5494, 0.42, 0.2096], c150_pts, c150_genes, c150_gx, c150_gy, off_c150,
        'Cys150', ylim4, -0.10, xlab_xy=(0.5, -0.129))
volcano([0.0627, 0.2927, 0.4213, 0.2096], c190_pts, c190_genes, c190_gx, c190_gy, off_c190,
        'Cys190', ylim4, -0.12, xlab_xy=(0.5, -0.12))
volcano([0.576, 0.2927, 0.42, 0.2096], c362_pts, c362_genes, c362_gx, c362_gy, off_c362,
        'Cys362', ylim4, -0.10, xlab_xy=(0.5, -0.12))
volcano([0.0627, 0.0307, 0.4213, 0.2096], c622_pts, c622_genes, c622_gx, c622_gy, off_c622,
        'Cys622', (-0.19, 4.87), -0.12, xlab_xy=(0.5, -0.105))
volcano([0.5773, 0.0299, 0.4187, 0.2096], wt_pts, wt_genes, wt_gx, wt_gy, off_wt,
        'WT', (-0.32, 6.75), -0.137, xlab_xy=(0.325, -0.096), xlim=(-3.39, 6.9),
        zero=False, top=True, ms=25, gfs=7)

fig.savefig('out.png', dpi=100)
